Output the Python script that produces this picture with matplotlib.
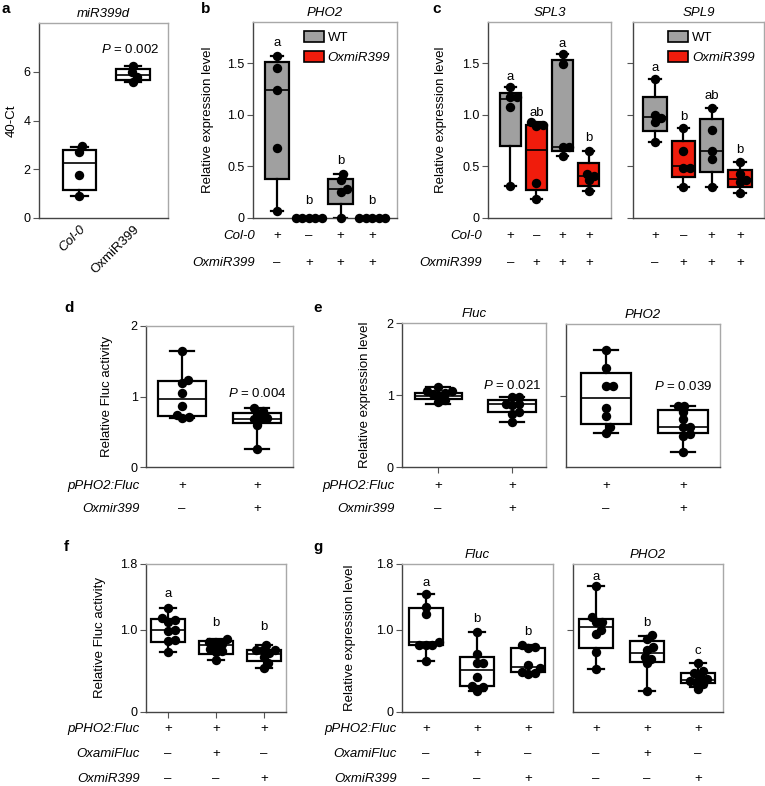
import numpy as np
import matplotlib
matplotlib.use('Agg')
import matplotlib.pyplot as plt
from matplotlib.patches import Patch
from matplotlib import transforms

plt.rcParams['font.family'] = 'Liberation Sans'
plt.rcParams['mathtext.fontset'] = 'custom'
plt.rcParams['mathtext.it'] = 'Liberation Sans:italic'
plt.rcParams['mathtext.rm'] = 'Liberation Sans'

GRAY = '#a0a0a0'
RED = '#f01c0c'
W, H = 765, 786

# ---- data (box stats are whislo, q1, med, q3, whishi) ----
a_labels = ['Col-0', 'OxmiR399']
a_pts = [[2.95, 2.71, 1.78, 0.89], [6.24, 5.97, 5.80, 5.58]]
a_box = [(0.89, 1.14, 2.26, 2.81, 2.90), (5.58, 5.67, 5.86, 6.13, 6.22)]

b_pts = [[1.57, 1.45, 1.24, 0.68, 0.065], [0, 0, 0, 0, 0],
         [0.43, 0.37, 0.28, 0.25, 0.0], [0, 0, 0, 0, 0]]
b_box = [(0.065, 0.38, 1.24, 1.51, 1.57), (0, 0, 0, 0, 0),
         (0.0, 0.14, 0.28, 0.38, 0.43), (0, 0, 0, 0, 0)]
b_letters = ['a', 'b', 'b', 'b']
b_letter_y = [1.70, 0.16, 0.55, 0.16]

spl3_pts = [[1.27, 1.17, 1.17, 1.08, 0.31], [0.93, 0.90, 0.89, 0.34, 0.18],
            [1.59, 1.49, 0.69, 0.69, 0.60], [0.65, 0.43, 0.41, 0.37, 0.26]]
spl3_box = [(0.31, 0.70, 1.15, 1.21, 1.27), (0.18, 0.27, 0.66, 0.90, 0.93),
            (0.60, 0.65, 0.69, 1.53, 1.59), (0.26, 0.31, 0.41, 0.53, 0.65)]
spl3_letters = ['a', 'ab', 'a', 'b']
spl3_letter_y = [1.37, 1.02, 1.69, 0.78]

spl9_pts = [[1.35, 1.00, 0.97, 0.93, 0.74], [0.87, 0.65, 0.48, 0.48, 0.30],
            [1.07, 0.85, 0.65, 0.57, 0.30], [0.54, 0.43, 0.37, 0.35, 0.24]]
spl9_box = [(0.74, 0.84, 0.98, 1.17, 1.35), (0.30, 0.40, 0.50, 0.75, 0.87),
            (0.30, 0.45, 0.65, 0.96, 1.07), (0.24, 0.30, 0.38, 0.47, 0.54)]
spl9_letters = ['a', 'b', 'ab', 'b']
spl9_letter_y = [1.45, 0.98, 1.18, 0.66]

bc_fills = [GRAY, RED, GRAY, RED]
bc_rows = ['Col-0', 'OxmiR399']
bc_signs = [['+', '-', '+', '+'], ['-', '+', '+', '+']]

d_pts = [[1.65, 1.24, 1.19, 1.05, 0.86, 0.74, 0.71, 0.69],
         [0.84, 0.80, 0.76, 0.69, 0.68, 0.68, 0.60, 0.26]]
d_box = [(0.69, 0.73, 0.96, 1.22, 1.65), (0.26, 0.62, 0.68, 0.76, 0.84)]
d_p = 'P = 0.004'

efluc_pts = [[1.11, 1.06, 1.05, 1.03, 1.01, 0.99, 0.93, 0.90],
             [0.97, 0.97, 0.88, 0.87, 0.86, 0.77, 0.74, 0.63]]
efluc_box = [(0.88, 0.94, 0.99, 1.03, 1.11), (0.63, 0.76, 0.87, 0.93, 0.97)]
efluc_p = 'P = 0.021'
epho2_pts = [[1.64, 1.38, 1.13, 1.13, 0.83, 0.72, 0.56, 0.48],
             [0.86, 0.86, 0.77, 0.67, 0.56, 0.56, 0.46, 0.44, 0.21]]
epho2_box = [(0.48, 0.60, 0.97, 1.31, 1.64), (0.21, 0.47, 0.56, 0.80, 0.86)]
epho2_p = 'P = 0.039'

de_rows = ['pPHO2:Fluc', 'Oxmir399']
de_signs = [['+', '+'], ['-', '+']]

f_pts = [[1.26, 1.14, 1.12, 1.10, 1.00, 0.98, 0.88, 0.86, 0.73],
         [0.89, 0.85, 0.83, 0.82, 0.77, 0.74, 0.73, 0.63],
         [0.82, 0.76, 0.76, 0.75, 0.72, 0.67, 0.60, 0.54]]
f_box = [(0.73, 0.85, 1.00, 1.13, 1.26), (0.63, 0.70, 0.82, 0.86, 0.89),
         (0.54, 0.62, 0.71, 0.76, 0.82)]
f_letters = ['a', 'b', 'b']
f_letter_y = [1.43, 1.08, 1.03]

gfluc_pts = [[1.44, 1.28, 1.19, 0.85, 0.82, 0.82, 0.82, 0.62],
             [0.97, 0.71, 0.59, 0.59, 0.43, 0.32, 0.30, 0.26],
             [0.81, 0.79, 0.78, 0.57, 0.53, 0.49, 0.48, 0.46]]
gfluc_box = [(0.62, 0.81, 0.85, 1.27, 1.44), (0.26, 0.32, 0.51, 0.67, 0.97),
             (0.46, 0.49, 0.55, 0.78, 0.81)]
gfluc_letters = ['a', 'b', 'b']
gfluc_letter_y = [1.57, 1.13, 0.97]
gpho2_pts = [[1.53, 1.16, 1.09, 1.09, 1.00, 0.95, 0.73, 0.52],
             [0.94, 0.89, 0.79, 0.76, 0.67, 0.65, 0.59, 0.26],
             [0.59, 0.50, 0.47, 0.43, 0.40, 0.38, 0.36, 0.34, 0.28]]
gpho2_box = [(0.52, 0.78, 1.03, 1.13, 1.53), (0.26, 0.61, 0.72, 0.86, 0.93),
             (0.30, 0.35, 0.39, 0.47, 0.59)]
gpho2_letters = ['a', 'b', 'c']
gpho2_letter_y = [1.64, 1.08, 0.74]

fg_rows = ['pPHO2:Fluc', 'OxamiFluc', 'OxmiR399']
fg_signs = [['+', '+', '+'], ['-', '+', '-'], ['-', '-', '+']]


fig = plt.figure(figsize=(W / 100, H / 100), dpi=100)


def add_ax(l, t, r, b):
    ax = fig.add_axes([l / W, 1 - b / H, (r - l) / W, (b - t) / H])
    for s in ['left', 'bottom']:
        ax.spines[s].set_color('#444444')
    for s in ['top', 'right']:
        ax.spines[s].set_color('#a8a8a8')
    for s in ax.spines.values():
        s.set_linewidth(1.0)
    ax.tick_params(axis='y', length=4, width=0.8, color='#555555', labelsize=9, pad=2)
    ax.tick_params(axis='x', length=0, labelsize=9)
    return ax


def swarm(ax, x0, ys, d=6.5):
    # simple beeswarm in pixel space
    tr = ax.transData
    cx = tr.transform((x0, 0))[0]
    placed = []
    xs = [x0] * len(ys)
    for i in sorted(range(len(ys)), key=lambda k: ys[k]):
        py = tr.transform((x0, ys[i]))[1]
        best = None
        for step in range(0, 80):
            for sgn in ([1] if step == 0 else [1, -1]):
                off = sgn * step * 0.5
                if all((off - ox) ** 2 + (py - oy) ** 2 >= d * d for ox, oy in placed):
                    best = off
                    break
            if best is not None:
                break
        placed.append((best, py))
        xs[i] = tr.inverted().transform((cx + best, py))[0]
    return xs


def boxes(ax, pts, stats, fills, xlim, ylim, width):
    pos = np.arange(1, len(pts) + 1)
    bst = [dict(whislo=s[0], q1=s[1], med=s[2], q3=s[3], whishi=s[4], fliers=[])
           for s in stats]
    bp = ax.bxp(bst, positions=pos, widths=width, capwidths=width * 0.5,
                patch_artist=True, showfliers=False, manage_ticks=False,
                boxprops=dict(edgecolor='black', linewidth=1.6),
                whiskerprops=dict(color='black', linewidth=1.6),
                capprops=dict(color='black', linewidth=1.6),
                medianprops=dict(color='black', linewidth=1.2))
    for patch, c in zip(bp['boxes'], fills):
        patch.set_facecolor(c)
    ax.set_xlim(xlim)
    ax.set_ylim(ylim)
    for i, ys in enumerate(pts):
        xs = swarm(ax, pos[i], ys)
        ax.scatter(xs, ys, s=46, color='black', zorder=5, clip_on=False, linewidths=0)
    return pos


def letters(ax, pos, labs, ys):
    for x, t, y in zip(pos, labs, ys):
        ax.text(x, y, t, ha='center', va='center', fontsize=9.5)


def sign_rows(ax, pos, rows, signs, ys, label_x=None):
    tr = transforms.blended_transform_factory(ax.transData, fig.transFigure)
    for r, row in enumerate(signs):
        yf = 1 - ys[r] / H
        if label_x is not None:
            fig.text(label_x / W, yf, rows[r], ha='right', va='center',
                     fontsize=9.5, style='italic')
        for x, s in zip(pos, row):
            ax.text(x, yf, '+' if s == '+' else '\u2013', transform=tr,
                    ha='center', va='center', fontsize=9.5)


def ylab(ax, text, px, l, r):
    # px is the horizontal centre of the rotated label
    ax.set_ylabel(text, fontsize=9.5)
    ax.yaxis.set_label_coords((px + 6 - l) / (r - l), 0.5)


def panel_letter(t, x, y):
    fig.text(x / W, 1 - y / H, t, fontsize=11, fontweight='bold', ha='left', va='center')


def ptext(ax, x, y, s):
    ax.text(x, y, r'$P$' + s[1:], ha='center', va='center', fontsize=9.5)


def legend(ax, x0):
    leg = ax.legend([Patch(facecolor=GRAY, edgecolor='black', lw=1.2),
                     Patch(facecolor=RED, edgecolor='black', lw=1.2)],
                    ['WT', 'OxmiR399'], loc='upper left', bbox_to_anchor=(x0, 1.0),
                    frameon=False, fontsize=9.5, handlelength=1.5, handleheight=0.85,
                    handletextpad=0.3, labelspacing=0.55, borderaxespad=0.3)
    leg.get_texts()[1].set_style('italic')


# ---- panel a ----
ax = add_ax(39, 23, 168, 218)
pos = boxes(ax, a_pts, a_box, ['white', 'white'], (0.25, 2.65), (0, 8), 0.62)
ax.set_yticks([0, 2, 4, 6])
ax.set_xticks(pos)
ax.set_xticklabels(a_labels, rotation=45, ha='right', rotation_mode='anchor', fontsize=9.5)
ax.get_xticklabels()[0].set_style('italic')
ax.tick_params(axis='x', pad=4)
ax.set_title('miR399d', fontsize=9.5, style='italic', pad=4)
ylab(ax, '40-Ct', 12, 39, 168)
ptext(ax, 1.95, 6.9, 'P = 0.002')
panel_letter('a', 1, 9)

# ---- panel b ----
yt = [0, 0.5, 1.0, 1.5]
ytl = ['0', '0.5', '1.0', '1.5']
ax = add_ax(253, 22, 397, 218)
pos = boxes(ax, b_pts, b_box, bc_fills, (0.24, 4.78), (0, 1.9), 0.77)
ax.set_yticks(yt)
ax.set_yticklabels(ytl)
ax.set_xticks([])
ax.set_title('PHO2', fontsize=9.5, style='italic', pad=4)
ylab(ax, 'Relative expression level', 208, 253, 397)
letters(ax, pos, b_letters, b_letter_y)
sign_rows(ax, pos, bc_rows, bc_signs, [236, 263], label_x=255)
legend(ax, 0.29)
panel_letter('b', 201, 9)

# ---- panel c ----
ax = add_ax(488, 22, 611, 218)
pos = boxes(ax, spl3_pts, spl3_box, bc_fills, (0.15, 4.85), (0, 1.9), 0.82)
ax.set_yticks(yt)
ax.set_yticklabels(ytl)
ax.set_xticks([])
ax.set_title('SPL3', fontsize=9.5, style='italic', pad=4)
ylab(ax, 'Relative expression level', 441, 488, 611)
letters(ax, pos, spl3_letters, spl3_letter_y)
sign_rows(ax, pos, bc_rows, bc_signs, [236, 263], label_x=482)
panel_letter('c', 432, 9)

ax = add_ax(633, 22, 764, 218)
pos = boxes(ax, spl9_pts, spl9_box, bc_fills, (0.22, 4.85), (0, 1.9), 0.82)
ax.set_yticks(yt)
ax.tick_params(axis='y', labelleft=False)
ax.set_xticks([])
ax.set_title('SPL9', fontsize=9.5, style='italic', pad=4)
letters(ax, pos, spl9_letters, spl9_letter_y)
sign_rows(ax, pos, bc_rows, bc_signs, [236, 263])
legend(ax, 0.20)

# ---- panel d ----
ax = add_ax(146, 326, 293, 467)
pos = boxes(ax, d_pts, d_box, ['white', 'white'], (0.52, 2.48), (0, 2), 0.65)
ax.set_yticks([0, 1, 2])
ax.set_xticks([])
ylab(ax, 'Relative Fluc activity', 107, 146, 293)
ptext(ax, 2, 1.04, d_p)
sign_rows(ax, pos, de_rows, de_signs, [486, 509], label_x=140)
panel_letter('d', 64, 308)

# ---- panel e ----
ax = add_ax(402, 323, 546, 467)
pos = boxes(ax, efluc_pts, efluc_box, ['white', 'white'], (0.51, 2.46), (0, 2), 0.64)
ax.set_yticks([0, 1, 2])
ax.set_xticks(pos)
ax.set_xticklabels([])
ax.tick_params(axis='x', length=4, width=0.8, color='#555555')
ax.set_title('Fluc', fontsize=9.5, style='italic', pad=4)
ylab(ax, 'Relative expression level', 365, 402, 546)
ptext(ax, 2, 1.13, efluc_p)
sign_rows(ax, pos, de_rows, de_signs, [486, 509], label_x=395)
panel_letter('e', 313, 308)

ax = add_ax(566, 324, 720, 467)
pos = boxes(ax, epho2_pts, epho2_box, ['white', 'white'], (0.48, 2.48), (0, 2), 0.64)
ax.set_yticks([1])
ax.tick_params(axis='y', labelleft=False)
ax.set_xticks([])
ax.set_title('PHO2', fontsize=9.5, style='italic', pad=4)
ptext(ax, 2, 1.13, epho2_p)
sign_rows(ax, pos, de_rows, de_signs, [486, 509])

# ---- panel f ----
ax = add_ax(146, 564, 286, 712)
pos = boxes(ax, f_pts, f_box, ['white'] * 3, (0.54, 3.46), (0, 1.8), 0.7)
ax.set_yticks([0, 1.0, 1.8])
ax.set_yticklabels(['0', '1.0', '1.8'])
ax.set_xticks(pos)
ax.set_xticklabels([])
ax.tick_params(axis='x', length=4, width=0.8, color='#555555')
ylab(ax, 'Relative Fluc activity', 100, 146, 286)
letters(ax, pos, f_letters, f_letter_y)
sign_rows(ax, pos, fg_rows, fg_signs, [729, 754, 779], label_x=140)
panel_letter('f', 64, 547)

# ---- panel g ----
ax = add_ax(402, 564, 553, 712)
pos = boxes(ax, gfluc_pts, gfluc_box, ['white'] * 3, (0.53, 3.49), (0, 1.8), 0.65)
ax.set_yticks([0, 1.0, 1.8])
ax.set_yticklabels(['0', '1.0', '1.8'])
ax.set_xticks([])
ax.set_title('Fluc', fontsize=9.5, style='italic', pad=4)
ylab(ax, 'Relative expression level', 350, 402, 553)
letters(ax, pos, gfluc_letters, gfluc_letter_y)
sign_rows(ax, pos, fg_rows, fg_signs, [729, 754, 779], label_x=397)
panel_letter('g', 313, 547)

ax = add_ax(573, 564, 723, 712)
pos = boxes(ax, gpho2_pts, gpho2_box, ['white'] * 3, (0.55, 3.49), (0, 1.8), 0.65)
ax.set_yticks([1.0])
ax.tick_params(axis='y', labelleft=False)
ax.set_xticks([])
ax.set_title('PHO2', fontsize=9.5, style='italic', pad=4)
letters(ax, pos, gpho2_letters, gpho2_letter_y)
sign_rows(ax, pos, fg_rows, fg_signs, [729, 754, 779])

fig.savefig('out.png', dpi=100)
